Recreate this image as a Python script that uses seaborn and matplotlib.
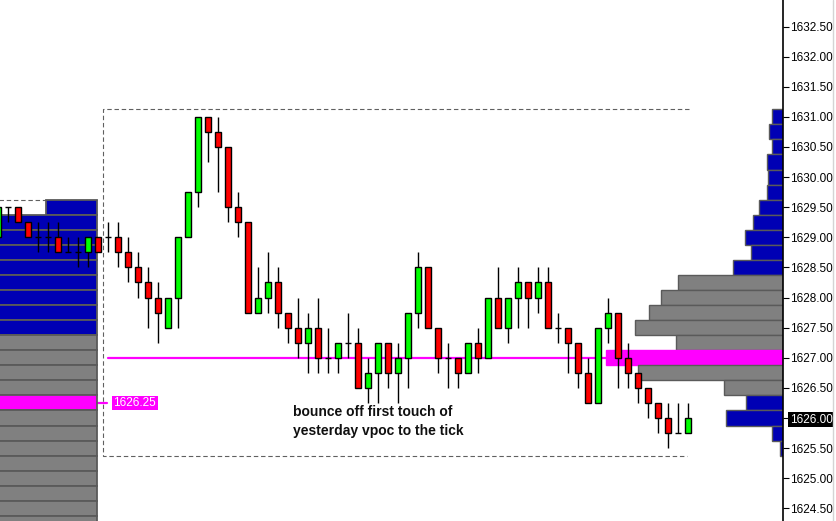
import numpy as np
import pandas as pd
import matplotlib
matplotlib.use("Agg")
import matplotlib.pyplot as plt
from matplotlib.lines import Line2D
import seaborn as sns

# -----------------------------
# DATA (prices, tick = 0.25)
# -----------------------------
opens = [1629.0, 1629.5, 1629.5, 1629.25, 1629.0, 1629.0, 1629.0, 1628.75, 1628.75, 1628.75,
         1629.0, 1629.0, 1629.0, 1628.75, 1628.5, 1628.25, 1628.0, 1627.5, 1628.0, 1629.0,
         1629.75, 1631.0, 1630.75, 1630.5, 1629.5, 1629.25, 1627.75, 1628.0, 1628.25, 1627.75,
         1627.5, 1627.25, 1627.5, 1627.0, 1627.0, 1627.25, 1627.25, 1626.5, 1626.75, 1627.25,
         1626.75, 1627.0, 1627.75, 1628.5, 1627.5, 1627.0, 1627.0, 1626.75, 1627.25, 1627.0,
         1628.0, 1627.5, 1628.0, 1628.25, 1628.0, 1628.25, 1627.5, 1627.5, 1627.25, 1626.75,
         1626.25, 1627.5, 1627.75, 1627.0, 1626.75, 1626.5, 1626.25, 1626.0, 1625.75, 1625.75]
closes = [1629.5, 1629.5, 1629.25, 1629.0, 1629.0, 1629.0, 1628.75, 1628.75, 1628.75, 1629.0,
          1628.75, 1629.0, 1628.75, 1628.5, 1628.25, 1628.0, 1627.75, 1628.0, 1629.0, 1629.75,
          1631.0, 1630.75, 1630.5, 1629.5, 1629.25, 1627.75, 1628.0, 1628.25, 1627.75, 1627.5,
          1627.25, 1627.5, 1627.0, 1627.0, 1627.25, 1627.25, 1626.5, 1626.75, 1627.25, 1626.75,
          1627.0, 1627.75, 1628.5, 1627.5, 1627.0, 1627.0, 1626.75, 1627.25, 1627.0, 1628.0,
          1627.5, 1628.0, 1628.25, 1628.0, 1628.25, 1627.5, 1627.5, 1627.25, 1626.75, 1626.25,
          1627.5, 1627.75, 1627.0, 1626.75, 1626.5, 1626.25, 1626.0, 1625.75, 1625.75, 1626.0]
highs = [1629.5, 1629.5, 1629.5, 1629.25, 1629.25, 1629.25, 1629.25, 1629.0, 1629.0, 1629.0,
         1629.0, 1629.25, 1629.25, 1629.0, 1628.75, 1628.5, 1628.25, 1628.0, 1629.0, 1629.75,
         1631.0, 1631.0, 1631.0, 1630.5, 1629.75, 1629.25, 1628.5, 1628.75, 1628.5, 1627.75,
         1628.0, 1627.75, 1628.0, 1627.5, 1627.25, 1627.75, 1627.5, 1627.0, 1627.25, 1627.25,
         1627.25, 1627.75, 1628.75, 1628.5, 1627.5, 1627.25, 1627.0, 1627.25, 1627.5, 1628.0,
         1628.5, 1628.0, 1628.5, 1628.25, 1628.5, 1628.5, 1627.75, 1627.5, 1627.25, 1627.0,
         1627.5, 1628.0, 1627.75, 1627.25, 1626.75, 1626.5, 1626.25, 1626.25, 1626.25, 1626.25]
lows = [1629.0, 1629.25, 1629.25, 1629.0, 1628.75, 1628.75, 1628.75, 1628.75, 1628.5, 1628.5,
        1628.75, 1628.75, 1628.5, 1628.25, 1628.0, 1627.5, 1627.25, 1627.5, 1627.5, 1629.0,
        1629.5, 1630.25, 1629.75, 1629.25, 1629.0, 1627.75, 1627.75, 1627.75, 1627.5, 1627.25,
        1627.0, 1626.75, 1626.75, 1626.75, 1626.75, 1627.0, 1626.5, 1626.25, 1626.25, 1626.5,
        1626.25, 1626.5, 1627.5, 1627.5, 1626.75, 1626.5, 1626.5, 1626.75, 1626.75, 1627.0,
        1627.5, 1627.25, 1627.5, 1627.5, 1627.75, 1627.5, 1627.25, 1626.75, 1626.5, 1626.25,
        1626.25, 1627.25, 1626.5, 1626.5, 1626.25, 1626.0, 1625.75, 1625.5, 1625.75, 1625.75]

# today's volume profile (right side)
today_prices = [1631.0, 1630.75, 1630.5, 1630.25, 1630.0, 1629.75, 1629.5, 1629.25, 1629.0,
                1628.75, 1628.5, 1628.25, 1628.0, 1627.75, 1627.5, 1627.25, 1627.0, 1626.75,
                1626.5, 1626.25, 1626.0, 1625.75, 1625.5]
today_vol = [11, 14, 11, 16, 15, 16, 24, 30, 38, 32, 50, 105, 122, 134, 148, 107, 177, 145,
             59, 37, 57, 11, 3]
today_poc = 1627.0
today_va = (1626.5, 1628.25)

# yesterday's volume profile (left side, mostly cut off)
yday_prices = [1629.5, 1629.25, 1629.0, 1628.75, 1628.5, 1628.25, 1628.0, 1627.75, 1627.5,
               1627.25, 1627.0, 1626.75, 1626.5, 1626.25, 1626.0, 1625.75, 1625.5, 1625.25,
               1625.0, 1624.75, 1624.5, 1624.25]
yday_vol = [51, 130, 150, 160, 170, 160, 150, 140, 130, 150, 170, 190, 210, 240, 220, 200,
            180, 170, 160, 150, 140, 130]
yday_poc = 1626.25
yday_va = (1624.0, 1627.25)

ytick_vals = [1624.5, 1625.0, 1625.5, 1626.0, 1626.5, 1627.0, 1627.5, 1628.0, 1628.5,
              1629.0, 1629.5, 1630.0, 1630.5, 1631.0, 1631.5, 1632.0, 1632.5]
last_price = 1626.0
note = "bounce off first touch of\nyesterday vpoc to the tick"

TICK = 0.25
FIRST_TODAY = 11  # first bar of today's session

# -----------------------------
# STYLE
# -----------------------------
sns.set_style("white")
plt.rcParams["font.family"] = ["Liberation Sans", "DejaVu Sans"]

BLUE = "#0000B4"
GRAY = "#808080"
MAGENTA = "#FF00FF"
EDGE = "#5A5A5A"

df = pd.DataFrame({"open": opens, "high": highs, "low": lows, "close": closes})
df["x"] = np.arange(len(df))

fig = plt.figure(figsize=(8.36, 5.21), dpi=100)
ax = fig.add_axes([0, 0, 783 / 836, 1])
ax.set_xlim(0.2, 78.5)
ax.set_ylim(1624.29, 1632.94)

# -----------------------------
# VOLUME PROFILES
# -----------------------------
scale = 0.1
right_edge = 78.5
tv = np.array(today_vol) * scale
tcol = [MAGENTA if p == today_poc else (GRAY if today_va[0] <= p <= today_va[1] else BLUE)
        for p in today_prices]
tedge = [MAGENTA if p == today_poc else EDGE for p in today_prices]
ax.barh(today_prices, tv, left=right_edge - tv, height=TICK, color=tcol,
        edgecolor=tedge, linewidth=1, zorder=2)

yday_edge = 9.93
yv = np.array(yday_vol) * scale
ycol = [MAGENTA if p == yday_poc else (GRAY if yday_va[0] <= p <= yday_va[1] else BLUE)
        for p in yday_prices]
ax.barh(yday_prices, yv, left=yday_edge - yv, height=TICK, color=ycol,
        edgecolor=EDGE, linewidth=1.3, zorder=2)

# -----------------------------
# SESSION RANGE BOXES (dashed)
# -----------------------------
today = df.iloc[FIRST_TODAY:]
yday = df.iloc[:FIRST_TODAY]
top = today["high"].max() + TICK / 2
bot = today["low"].min() - TICK / 2
box_l = FIRST_TODAY - 0.5
box_r = df["x"].iloc[-1] + 0.1
dash = dict(color="#606060", linewidth=0.8, linestyle=(0, (4, 2.5)), zorder=1)
ax.plot([box_r, box_l, box_l, box_r - 0.2], [top, top, bot, bot], **dash)
ax.plot([-1, yday_edge], [yday["high"].max() + TICK / 2] * 2, **dash)

# -----------------------------
# POC LINES
# -----------------------------
ax.plot([FIRST_TODAY, right_edge - today_vol[today_prices.index(today_poc)] * scale],
        [today_poc, today_poc], color=MAGENTA, linewidth=1.6, zorder=1.5)
ax.plot([yday_edge, FIRST_TODAY - 0.1], [yday_poc, yday_poc], color=MAGENTA,
        linewidth=1.6, zorder=1.5)
ax.text(FIRST_TODAY + 0.55, yday_poc, f"{yday_poc:.2f}", color="white", fontsize=8.5,
        ha="left", va="center", zorder=6,
        bbox=dict(boxstyle="square,pad=0.12", facecolor=MAGENTA, edgecolor="none"))

# -----------------------------
# CANDLES
# -----------------------------
ax.vlines(df["x"], df["low"], df["high"], color="black", linewidth=1, zorder=3)
body = df[df["open"] != df["close"]]
bcol = np.where(body["close"] > body["open"], "#00FF00", "#FF0000")
ax.bar(body["x"], body["close"] - body["open"], bottom=body["open"], width=0.62,
       color=bcol, edgecolor="black", linewidth=1, zorder=4)
doji = df[df["open"] == df["close"]]
ax.hlines(doji["open"], doji["x"] - 0.32, doji["x"] + 0.32, color="black",
          linewidth=1, zorder=4)

# -----------------------------
# NOTE
# -----------------------------
ax.text(29.5, 1626.21, note, fontsize=10, weight="bold", color="#101010",
        ha="left", va="top", linespacing=1.45, zorder=6)

# -----------------------------
# AXES
# -----------------------------
for s in ["top", "left", "bottom"]:
    ax.spines[s].set_visible(False)
ax.spines["right"].set_color("black")
ax.spines["right"].set_linewidth(1.2)
ax.set_xticks([])
ax.yaxis.tick_right()
ax.set_yticks(ytick_vals, labels=[f"{v:.2f}" for v in ytick_vals])
ax.tick_params(axis="y", direction="out", length=4, width=0.8, pad=0.8,
               labelsize=8.5, colors="black")
for lbl in ax.get_yticklabels():
    if lbl.get_text() == f"{last_price:.2f}":
        lbl.set_color("white")
        lbl.set_bbox(dict(boxstyle="square,pad=0.1", facecolor="black", edgecolor="none"))

fig.add_artist(Line2D([833 / 836] * 2, [0, 1], color="#D4D4D4", linewidth=1,
                      transform=fig.transFigure))

plt.savefig("out.png", dpi=100)
plt.close()
